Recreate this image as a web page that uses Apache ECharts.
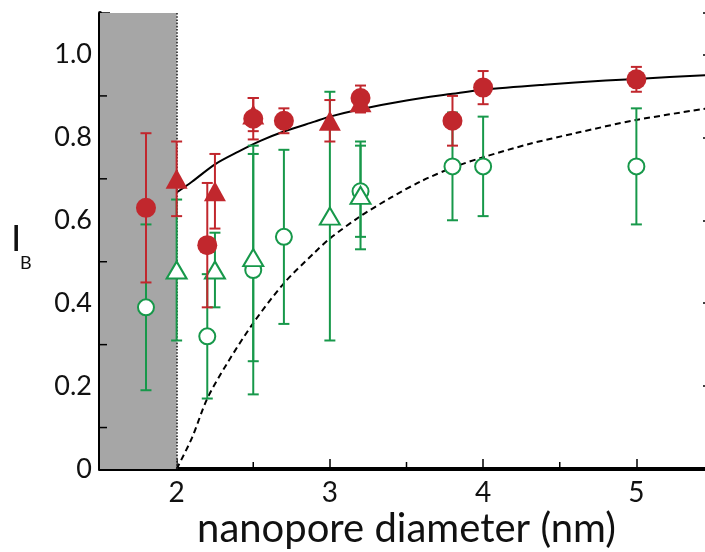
<!DOCTYPE html>
<html><head><meta charset="utf-8">
<script src="https://cdn.jsdelivr.net/npm/echarts@6/dist/echarts.min.js"></script>
<style>html,body{margin:0;padding:0;background:#fff}#c{width:705px;height:552px}</style>
</head><body><div id="c"></div>
<script>
// ---- data ----
const redCircleX   = [1.8, 2.2, 2.5, 2.7, 3.2, 3.8, 4.0, 5.0];
const redCircleY   = [0.63, 0.54, 0.845, 0.84, 0.895, 0.84, 0.92, 0.94];
const redCircleErr = [0.18, 0.15, 0.05, 0.03, 0.03, 0.06, 0.04, 0.03];

const redTriX   = [2.0, 2.25, 2.5, 3.0, 3.2];
const redTriY   = [0.70, 0.67, 0.855, 0.84, 0.885];
const redTriErr = [0.09, 0.09, 0.04, 0.05, 0.025];

const greenCircleX   = [1.8, 2.2, 2.5, 2.7, 3.2, 3.8, 4.0, 5.0];
const greenCircleY   = [0.39, 0.32, 0.48, 0.56, 0.67, 0.73, 0.73, 0.73];
const greenCircleErr = [0.20, 0.15, 0.30, 0.21, 0.11, 0.13, 0.12, 0.14];

const greenTriX   = [2.0, 2.25, 2.5, 3.0, 3.2];
const greenTriY   = [0.48, 0.48, 0.51, 0.61, 0.66];
const greenTriErr = [0.17, 0.09, 0.25, 0.30, 0.13];

const solidCurveX = [2.0, 2.1, 2.25, 2.4, 2.55, 2.7, 2.9, 3.0, 3.2, 3.5, 3.8, 4.0, 4.4, 4.8, 5.0, 5.5];
const solidCurveY = [0.667, 0.693, 0.735, 0.765, 0.792, 0.814, 0.838, 0.850, 0.868, 0.889, 0.905, 0.915, 0.927, 0.937, 0.941, 0.951];

const dashedCurveX = [2.0, 2.1, 2.2, 2.33, 2.5, 2.7, 2.9, 3.0, 3.2, 3.4, 3.6, 3.8, 4.0, 4.3, 4.6, 5.0, 5.5];
const dashedCurveY = [0.0, 0.075, 0.17, 0.255, 0.352, 0.448, 0.522, 0.556, 0.61, 0.655, 0.695, 0.727, 0.752, 0.784, 0.81, 0.842, 0.872];

const xTickValues  = [2, 3, 4, 5];
const xMinorTicks  = [2.5, 3.5, 4.5];
const yMinorTicks  = [0.1, 0.3, 0.5, 0.7, 0.9];
const excludedZone = [1.5, 2.0];

const xAxisTitle = 'nanopore diameter (nm)';

// ---- styling ----
const RED = '#c1272d', GREEN = '#17984a', FONT = 'Lato';
const zip = (a, b, c) => a.map((v, i) => c ? [v, b[i], c[i]] : [v, b[i]]);

function errRender(color) {
  return function (params, api) {
    const x = api.value(0), y = api.value(1), e = api.value(2);
    const t = api.coord([x, y + e]), b = api.coord([x, y - e]);
    const hw = 5.5, st = { stroke: color, lineWidth: 2 };
    return { type: 'group', children: [
      { type: 'line', shape: { x1: t[0], y1: t[1], x2: b[0], y2: b[1] }, style: st },
      { type: 'line', shape: { x1: t[0] - hw, y1: t[1], x2: t[0] + hw, y2: t[1] }, style: st },
      { type: 'line', shape: { x1: b[0] - hw, y1: b[1], x2: b[0] + hw, y2: b[1] }, style: st }
    ]};
  };
}

const chart = echarts.init(document.getElementById('c'), null, { renderer: 'canvas' });
const axisLine = { show: true, lineStyle: { color: '#000', width: 4 } };
chart.setOption({
  animation: false,
  backgroundColor: '#fff',
  grid: { left: 100, top: 13, width: 613, height: 456, containLabel: false, outerBoundsMode: 'none' },
  xAxis: [
    { type: 'value', position: 'bottom', min: 1.5, max: 5.5, interval: 0.5,
      axisLine: axisLine, splitLine: { show: false },
      axisTick: { show: true, inside: true, length: 10, customValues: xTickValues, lineStyle: { color: '#000', width: 1.5 } },
      axisLabel: { show: true, customValues: xTickValues, fontFamily: FONT, fontSize: 28, color: '#111', margin: 10 },
      name: xAxisTitle, nameLocation: 'middle', nameGap: 40, nameMoveOverlap: false,
      nameTextStyle: { fontFamily: FONT, fontSize: 40, color: '#111' } },
    { type: 'value', position: 'top', min: 1.5, max: 5.5,
      axisLine: axisLine, axisTick: { show: false }, axisLabel: { show: false }, splitLine: { show: false } }
  ],
  yAxis: [
    { type: 'value', position: 'left', min: 0, max: 1.1, interval: 0.2,
      axisLine: axisLine, splitLine: { show: false },
      axisTick: { show: true, inside: true, length: 10, lineStyle: { color: '#000', width: 1.5 } },
      axisLabel: { fontFamily: FONT, fontSize: 27, color: '#111', margin: 8,
        formatter: v => (v === 0 ? '0' : (v > 1.05 ? '' : v.toFixed(1))) } },
    { type: 'value', position: 'right', min: 0, max: 1.1, interval: 0.2,
      axisLine: axisLine, splitLine: { show: false },
      axisTick: { show: true, inside: true, length: 10, lineStyle: { color: '#000', width: 1.5 } },
      axisLabel: { show: false } }
  ],
  graphic: [
    { type: 'text', left: 11, top: 221, z: 10, style: { text: 'I', font: '37px ' + FONT, fill: '#111' } },
    { type: 'text', left: 20, top: 254, z: 10, style: { text: 'B', font: '18px ' + FONT, fill: '#111' } }
  ],
  series: [
    { type: 'line', data: [], z: 0,
      markArea: { silent: true, itemStyle: { color: '#a6a6a6' },
        data: [[{ xAxis: excludedZone[0] }, { xAxis: excludedZone[1] }]] },
      markLine: { silent: true, symbol: 'none', label: { show: false },
        lineStyle: { color: '#222', type: 'dotted', width: 1.6 },
        data: [{ xAxis: excludedZone[1] }] } },
    { type: 'custom', z: 9, clip: false, data: xMinorTicks.map(v => [v, 0]),
      renderItem: (p, api) => { const c = api.coord([api.value(0), 0]);
        return { type: 'line', shape: { x1: c[0], y1: c[1], x2: c[0], y2: c[1] - 7 }, style: { stroke: '#000', lineWidth: 1.5 } }; } },
    { type: 'custom', z: 9, clip: false, data: yMinorTicks.map(v => [1.5, v]),
      renderItem: (p, api) => { const c = api.coord([1.5, api.value(1)]);
        return { type: 'line', shape: { x1: c[0], y1: c[1], x2: c[0] + 7, y2: c[1] }, style: { stroke: '#000', lineWidth: 1.5 } }; } },
    { type: 'line', data: zip(solidCurveX, solidCurveY), smooth: 0.3, showSymbol: false, z: 4,
      lineStyle: { color: '#000', width: 2 } },
    { type: 'line', data: zip(dashedCurveX, dashedCurveY), smooth: 0.3, showSymbol: false, z: 4,
      lineStyle: { color: '#000', width: 2, type: [6, 4] } },
    { type: 'custom', z: 5, data: zip(greenCircleX, greenCircleY, greenCircleErr), renderItem: errRender(GREEN) },
    { type: 'custom', z: 5, data: zip(greenTriX, greenTriY, greenTriErr), renderItem: errRender(GREEN) },
    { type: 'scatter', z: 6, data: zip(greenCircleX, greenCircleY), symbol: 'circle', symbolSize: 16,
      itemStyle: { color: '#fff', borderColor: GREEN, borderWidth: 2, opacity: 1 } },
    { type: 'scatter', z: 6, data: zip(greenTriX, greenTriY), symbol: 'triangle', symbolSize: [20, 17],
      itemStyle: { color: '#fff', borderColor: GREEN, borderWidth: 2, opacity: 1 } },
    { type: 'custom', z: 7, data: zip(redCircleX, redCircleY, redCircleErr), renderItem: errRender(RED) },
    { type: 'custom', z: 7, data: zip(redTriX, redTriY, redTriErr), renderItem: errRender(RED) },
    { type: 'scatter', z: 8, data: zip(redCircleX, redCircleY), symbol: 'circle', symbolSize: 20,
      itemStyle: { color: RED, opacity: 1 } },
    { type: 'scatter', z: 8, data: zip(redTriX, redTriY), symbol: 'triangle', symbolSize: [22, 20],
      itemStyle: { color: RED, opacity: 1 } }
  ]
});
</script></body></html>
